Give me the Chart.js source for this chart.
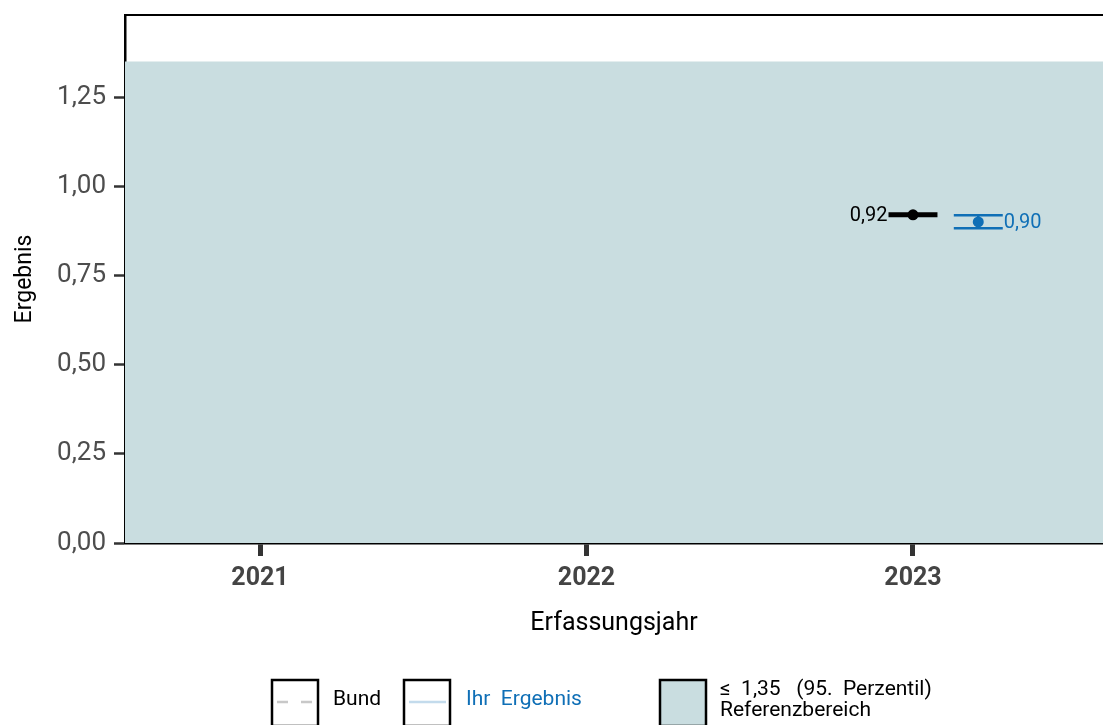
<!DOCTYPE html>
<html><head><meta charset="utf-8">
<script src="https://cdn.jsdelivr.net/npm/chart.js@4/dist/chart.umd.min.js"></script>
<style>html,body{margin:0;padding:0;background:#fff;overflow:hidden}#wrap{width:1103px;height:725px;position:relative}canvas{display:block}</style>
</head><body><div id="wrap"><canvas id="c" width="1103" height="725"></canvas></div>
<script>
// ---- data ----
const years = [2021, 2022, 2023];
const yTicks = [0, 0.25, 0.5, 0.75, 1.0, 1.25];
const refUpper = 1.35;
const bundYear = [2023];
const bundValue = [0.92];
const bundLower = [0.918];
const bundUpper = [0.922];
const ihrYear = [2023];
const ihrValue = [0.90];
const ihrLower = [0.882];
const ihrUpper = [0.919];
const legendLabels = ['Bund', 'Ihr  Ergebnis', '≤  1,35   (95.  Perzentil)', 'Referenzbereich'];

// ---- layout / style constants ----
const X_MIN = 2020.5865, X_MAX = 2023.582;
const Y_MAX = 1.48;
const DODGE = 0.2, CAP = 0.075;
const BLUE = '#0f6fb6';
const REF = '#c9dde0';
const FONT = 'Roboto, "Open Sans", sans-serif';
const fmt = v => v.toFixed(2).replace('.', ',');

function errorBar(x, lo, hi) {
  return [
    {x: x - CAP, y: hi}, {x: x + CAP, y: hi}, {x: x, y: null},
    {x: x - CAP, y: lo}, {x: x + CAP, y: lo}, {x: x, y: null},
    {x: x, y: lo}, {x: x, y: hi}
  ];
}

const bundBars = bundYear.flatMap((y, i) => errorBar(y, bundLower[i], bundUpper[i]));
const ihrBars = ihrYear.flatMap((y, i) => errorBar(y + DODGE, ihrLower[i], ihrUpper[i]));

function noPad(s) { s.paddingLeft = 0; s.paddingRight = 0; s.paddingTop = 0; s.paddingBottom = 0; }

// let the plot area run to the right edge of the canvas, as in the reference
const fullWidth = {
  id: 'fullWidth',
  afterLayout(chart) {
    const a = chart.chartArea, x = chart.scales.x;
    if (a.right < chart.width) {
      a.right = chart.width; a.width = a.right - a.left;
      x.right = chart.width; x.width = x.right - x.left;
      x.configure();
      x._gridLineItems = null; x._labelItems = null;
    }
  }
};

const extras = {
  id: 'extras',
  afterDraw(chart) {
    const {ctx, chartArea, scales} = chart;
    ctx.save();
    // top border
    ctx.strokeStyle = '#000'; ctx.lineWidth = 2;
    ctx.beginPath(); ctx.moveTo(chartArea.left - 1, chartArea.top); ctx.lineTo(chartArea.right, chartArea.top); ctx.stroke();
    // value labels
    ctx.font = '20px ' + FONT;
    ctx.textBaseline = 'middle';
    const capPx = scales.x.getPixelForValue(2023 + CAP) - scales.x.getPixelForValue(2023);
    bundYear.forEach((yr, i) => {
      ctx.fillStyle = '#000'; ctx.textAlign = 'right';
      ctx.fillText(fmt(bundValue[i]), scales.x.getPixelForValue(yr) - capPx - 1, scales.y.getPixelForValue(bundValue[i]) + 1);
    });
    ihrYear.forEach((yr, i) => {
      ctx.fillStyle = BLUE; ctx.textAlign = 'left';
      ctx.fillText(fmt(ihrValue[i]), scales.x.getPixelForValue(yr + DODGE) + capPx + 1, scales.y.getPixelForValue(ihrValue[i]) + 1);
    });
    // legend
    const boxY = 680, S = 46;
    const boxes = [272, 404, 660];
    ctx.lineWidth = 2.5; ctx.strokeStyle = '#000';
    boxes.forEach((bx, i) => {
      if (i === 2) { ctx.fillStyle = REF; ctx.fillRect(bx, boxY, S, S); }
      ctx.strokeRect(bx, boxY, S, S);
    });
    const midY = 702;
    ctx.strokeStyle = '#c8c8c8'; ctx.lineWidth = 2.5; ctx.setLineDash([11, 13]);
    ctx.beginPath(); ctx.moveTo(277, midY); ctx.lineTo(314, midY); ctx.stroke();
    ctx.setLineDash([]);
    ctx.strokeStyle = '#c3dbec';
    ctx.beginPath(); ctx.moveTo(409, midY); ctx.lineTo(446, midY); ctx.stroke();
    ctx.font = '21px ' + FONT; ctx.textAlign = 'left'; ctx.textBaseline = 'middle';
    ctx.fillStyle = '#000'; ctx.fillText(legendLabels[0], 333, 700);
    ctx.fillStyle = BLUE; ctx.fillText(legendLabels[1], 466, 700);
    ctx.fillStyle = '#000';
    ctx.fillText(legendLabels[2], 720, 690);
    ctx.fillText(legendLabels[3], 720, 711);
    ctx.restore();
  }
};

new Chart(document.getElementById('c'), {
  type: 'scatter',
  data: {
    datasets: [
      {data: bundValue.map((v, i) => ({x: bundYear[i], y: v})), backgroundColor: '#000', borderColor: '#000', pointRadius: 5.5, pointBorderWidth: 0, order: 0},
      {data: ihrValue.map((v, i) => ({x: ihrYear[i] + DODGE, y: v})), backgroundColor: BLUE, borderColor: BLUE, pointRadius: 5.5, pointBorderWidth: 0, order: 0},
      {data: bundBars, showLine: true, spanGaps: false, borderColor: '#000', borderWidth: 3.5, pointRadius: 0, order: 1},
      {data: ihrBars, showLine: true, spanGaps: false, borderColor: BLUE, borderWidth: 2.5, pointRadius: 0, order: 1},
      {data: [{x: X_MIN, y: refUpper}, {x: X_MAX, y: refUpper}], showLine: true, fill: 'origin', backgroundColor: REF, borderWidth: 0, pointRadius: 0, order: 5}
    ]
  },
  options: {
    responsive: false,
    animation: false,
    maintainAspectRatio: false,
    devicePixelRatio: 1,
    layout: {padding: {top: 15, right: 0, left: 0, bottom: 0}},
    plugins: {legend: {display: false}, tooltip: {enabled: false}, title: {display: false}},
    scales: {
      x: {
        type: 'linear', min: X_MIN, max: X_MAX,
        afterBuildTicks: s => { s.ticks = years.map(v => ({value: v})); },
        afterFit: s => { s.height = 182; noPad(s); },
        ticks: {callback: v => String(v), font: {family: FONT, size: 25, weight: 'bold'}, color: '#444', padding: 8, maxRotation: 0},
        grid: {drawOnChartArea: false, drawTicks: true, tickLength: 13, tickWidth: 5, tickColor: '#333'},
        border: {display: true, color: '#000', width: 2.5},
        title: {display: true, text: 'Erfassungsjahr', font: {family: FONT, size: 25}, color: '#000', padding: {top: 0, bottom: 86}}
      },
      y: {
        min: 0, max: Y_MAX,
        afterBuildTicks: s => { s.ticks = yTicks.map(v => ({value: v})); },
        afterFit: s => { s.width = 125; noPad(s); },
        ticks: {callback: v => fmt(v), font: {family: FONT, size: 26}, color: '#4d4d4d', padding: 8},
        grid: {drawOnChartArea: false, drawTicks: true, tickLength: 11, tickWidth: 2.5, tickColor: '#333'},
        border: {display: true, color: '#000', width: 2.5},
        title: {display: true, text: 'Ergebnis', font: {family: FONT, size: 23}, color: '#000', padding: {top: 11, bottom: 0}}
      }
    }
  },
  plugins: [fullWidth, extras]
});
</script></body></html>
